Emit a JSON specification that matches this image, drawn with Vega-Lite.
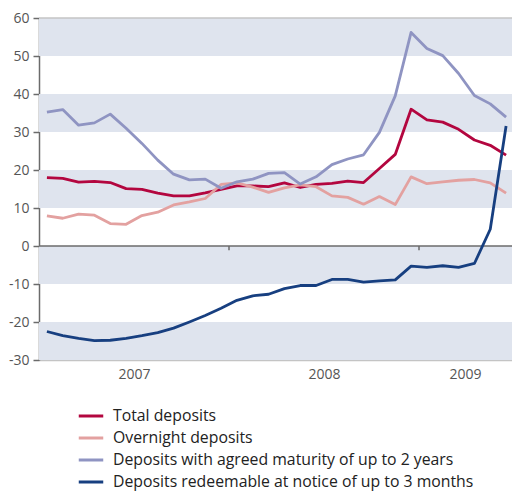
{
  "$schema": "https://vega.github.io/schema/vega-lite/v6.json",
  "width": 475,
  "height": 342,
  "autosize": "none",
  "padding": {"left": 39, "top": 18, "right": 0, "bottom": 131},
  "background": "white",
  "config": {
    "font": "Open Sans",
    "view": {"stroke": null},
    "axis": {"labelFont": "Open Sans", "labelColor": "#555555", "labelFontSize": 14, "grid": false, "title": null, "labelOverlap": false}
  },
  "datasets": {
    "bands": [
      {"lo": 50, "hi": 60},
      {"lo": 30, "hi": 40},
      {"lo": 10, "hi": 20},
      {"lo": -10, "hi": 0},
      {"lo": -30, "hi": -20}
    ],
    "years": [{"b": 11.5}, {"b": 23.5}],
    "series": [
      {"m": 0, "Total deposits": 18.0, "Overnight deposits": 7.9, "Deposits with agreed maturity of up to 2 years": 35.2, "Deposits redeemable at notice of up to 3 months": -22.5},
      {"m": 1, "Total deposits": 17.8, "Overnight deposits": 7.3, "Deposits with agreed maturity of up to 2 years": 35.9, "Deposits redeemable at notice of up to 3 months": -23.6},
      {"m": 2, "Total deposits": 16.8, "Overnight deposits": 8.4, "Deposits with agreed maturity of up to 2 years": 31.8, "Deposits redeemable at notice of up to 3 months": -24.3},
      {"m": 3, "Total deposits": 17.0, "Overnight deposits": 8.1, "Deposits with agreed maturity of up to 2 years": 32.4, "Deposits redeemable at notice of up to 3 months": -24.9},
      {"m": 4, "Total deposits": 16.7, "Overnight deposits": 5.9, "Deposits with agreed maturity of up to 2 years": 34.7, "Deposits redeemable at notice of up to 3 months": -24.8},
      {"m": 5, "Total deposits": 15.1, "Overnight deposits": 5.7, "Deposits with agreed maturity of up to 2 years": 31.0, "Deposits redeemable at notice of up to 3 months": -24.3},
      {"m": 6, "Total deposits": 14.9, "Overnight deposits": 8.0, "Deposits with agreed maturity of up to 2 years": 27.0, "Deposits redeemable at notice of up to 3 months": -23.6},
      {"m": 7, "Total deposits": 13.9, "Overnight deposits": 8.9, "Deposits with agreed maturity of up to 2 years": 22.6, "Deposits redeemable at notice of up to 3 months": -22.8},
      {"m": 8, "Total deposits": 13.2, "Overnight deposits": 10.8, "Deposits with agreed maturity of up to 2 years": 18.9, "Deposits redeemable at notice of up to 3 months": -21.6},
      {"m": 9, "Total deposits": 13.2, "Overnight deposits": 11.6, "Deposits with agreed maturity of up to 2 years": 17.4, "Deposits redeemable at notice of up to 3 months": -20.0},
      {"m": 10, "Total deposits": 14.0, "Overnight deposits": 12.5, "Deposits with agreed maturity of up to 2 years": 17.6, "Deposits redeemable at notice of up to 3 months": -18.3},
      {"m": 11, "Total deposits": 14.9, "Overnight deposits": 16.2, "Deposits with agreed maturity of up to 2 years": 15.2, "Deposits redeemable at notice of up to 3 months": -16.4},
      {"m": 12, "Total deposits": 15.8, "Overnight deposits": 16.6, "Deposits with agreed maturity of up to 2 years": 16.9, "Deposits redeemable at notice of up to 3 months": -14.3},
      {"m": 13, "Total deposits": 15.8, "Overnight deposits": 15.5, "Deposits with agreed maturity of up to 2 years": 17.6, "Deposits redeemable at notice of up to 3 months": -13.1},
      {"m": 14, "Total deposits": 15.6, "Overnight deposits": 14.1, "Deposits with agreed maturity of up to 2 years": 19.1, "Deposits redeemable at notice of up to 3 months": -12.7},
      {"m": 15, "Total deposits": 16.6, "Overnight deposits": 15.3, "Deposits with agreed maturity of up to 2 years": 19.3, "Deposits redeemable at notice of up to 3 months": -11.2},
      {"m": 16, "Total deposits": 15.4, "Overnight deposits": 16.1, "Deposits with agreed maturity of up to 2 years": 16.3, "Deposits redeemable at notice of up to 3 months": -10.4},
      {"m": 17, "Total deposits": 16.2, "Overnight deposits": 15.6, "Deposits with agreed maturity of up to 2 years": 18.2, "Deposits redeemable at notice of up to 3 months": -10.4},
      {"m": 18, "Total deposits": 16.5, "Overnight deposits": 13.2, "Deposits with agreed maturity of up to 2 years": 21.4, "Deposits redeemable at notice of up to 3 months": -8.8},
      {"m": 19, "Total deposits": 17.1, "Overnight deposits": 12.8, "Deposits with agreed maturity of up to 2 years": 22.9, "Deposits redeemable at notice of up to 3 months": -8.8},
      {"m": 20, "Total deposits": 16.7, "Overnight deposits": 11.0, "Deposits with agreed maturity of up to 2 years": 24.0, "Deposits redeemable at notice of up to 3 months": -9.5},
      {"m": 21, "Total deposits": 20.4, "Overnight deposits": 13.0, "Deposits with agreed maturity of up to 2 years": 29.9, "Deposits redeemable at notice of up to 3 months": -9.2},
      {"m": 22, "Total deposits": 24.1, "Overnight deposits": 10.9, "Deposits with agreed maturity of up to 2 years": 39.5, "Deposits redeemable at notice of up to 3 months": -8.9},
      {"m": 23, "Total deposits": 36.0, "Overnight deposits": 18.2, "Deposits with agreed maturity of up to 2 years": 56.2, "Deposits redeemable at notice of up to 3 months": -5.3},
      {"m": 24, "Total deposits": 33.2, "Overnight deposits": 16.4, "Deposits with agreed maturity of up to 2 years": 52.0, "Deposits redeemable at notice of up to 3 months": -5.6},
      {"m": 25, "Total deposits": 32.6, "Overnight deposits": 16.9, "Deposits with agreed maturity of up to 2 years": 50.1, "Deposits redeemable at notice of up to 3 months": -5.2},
      {"m": 26, "Total deposits": 30.7, "Overnight deposits": 17.3, "Deposits with agreed maturity of up to 2 years": 45.4, "Deposits redeemable at notice of up to 3 months": -5.6},
      {"m": 27, "Total deposits": 27.9, "Overnight deposits": 17.5, "Deposits with agreed maturity of up to 2 years": 39.6, "Deposits redeemable at notice of up to 3 months": -4.6},
      {"m": 28, "Total deposits": 26.5, "Overnight deposits": 16.6, "Deposits with agreed maturity of up to 2 years": 37.4, "Deposits redeemable at notice of up to 3 months": 4.4},
      {"m": 29, "Total deposits": 23.9, "Overnight deposits": 13.9, "Deposits with agreed maturity of up to 2 years": 33.9, "Deposits redeemable at notice of up to 3 months": 31.6}
    ]
  },
  "layer": [
    {
      "data": {"name": "bands"},
      "mark": {"type": "rect", "color": "#dfe4ee"},
      "encoding": {
        "x": {
          "datum": -0.5, "type": "quantitative", "scale": {"domain": [-0.5, 29.5], "nice": false, "zero": false},
          "axis": {
            "values": [5.5, 17.5, 26.4], "tickCount": 20,
            "labelExpr": "datum.value < 10 ? '2007' : (datum.value < 20 ? '2008' : '2009')",
            "ticks": false, "domainColor": "#c4c4c4", "domainWidth": 1.5, "labelPadding": 7, "labelOverlap": false
          }
        },
        "x2": {"datum": 29.5},
        "y": {
          "field": "lo", "type": "quantitative", "scale": {"domain": [-30, 60], "nice": false},
          "axis": {
            "values": [-30, -20, -10, 0, 10, 20, 30, 40, 50, 60], "tickCount": 20,
            "labelExpr": "datum.value + ''",
            "labelOverlap": false, "labelFlush": false, "labelBound": false,
            "domainColor": "#6b6b6b", "domainWidth": 1.5, "tickColor": "#6b6b6b", "tickWidth": 1.5, "tickSize": 6, "labelPadding": 4
          }
        },
        "y2": {"field": "hi"}
      }
    },
    {
      "data": {"values": [{}]},
      "mark": {"type": "rule", "color": "#c4c4c4", "strokeWidth": 1.5},
      "encoding": {
        "y": {"datum": 60, "type": "quantitative"}
      }
    },
    {
      "data": {"values": [{}]},
      "mark": {"type": "rule", "color": "#6b6b6b", "strokeWidth": 1.5},
      "encoding": {
        "y": {"datum": 0, "type": "quantitative"}
      }
    },
    {
      "data": {"name": "years"},
      "mark": {"type": "rule", "color": "#6b6b6b", "strokeWidth": 1.5},
      "encoding": {
        "x": {"field": "b", "type": "quantitative"},
        "y": {"datum": 0, "type": "quantitative"},
        "y2": {"datum": -1.1}
      }
    },
    {
      "data": {"name": "series"},
      "transform": [
        {"fold": ["Total deposits", "Overnight deposits", "Deposits with agreed maturity of up to 2 years", "Deposits redeemable at notice of up to 3 months"], "as": ["series", "value"]}
      ],
      "mark": {"type": "line", "strokeWidth": 2.8, "strokeJoin": "round", "clip": true},
      "encoding": {
        "x": {"field": "m", "type": "quantitative"},
        "y": {"field": "value", "type": "quantitative"},
        "color": {
          "field": "series", "type": "nominal",
          "scale": {
            "domain": ["Total deposits", "Overnight deposits", "Deposits with agreed maturity of up to 2 years", "Deposits redeemable at notice of up to 3 months"],
            "range": ["#b3063f", "#e3a1a0", "#8f94c2", "#173f80"]
          },
          "legend": {
            "orient": "none", "legendX": 38, "legendY": 384, "title": null,
            "symbolType": "stroke", "symbolSize": 600, "symbolStrokeWidth": 3,
            "labelFont": "Open Sans", "labelFontSize": 15.8, "labelColor": "#222222", "labelOffset": 8,
            "rowPadding": -0.3, "labelLimit": 500
          }
        },
        "order": {"field": "m"}
      }
    }
  ]
}
